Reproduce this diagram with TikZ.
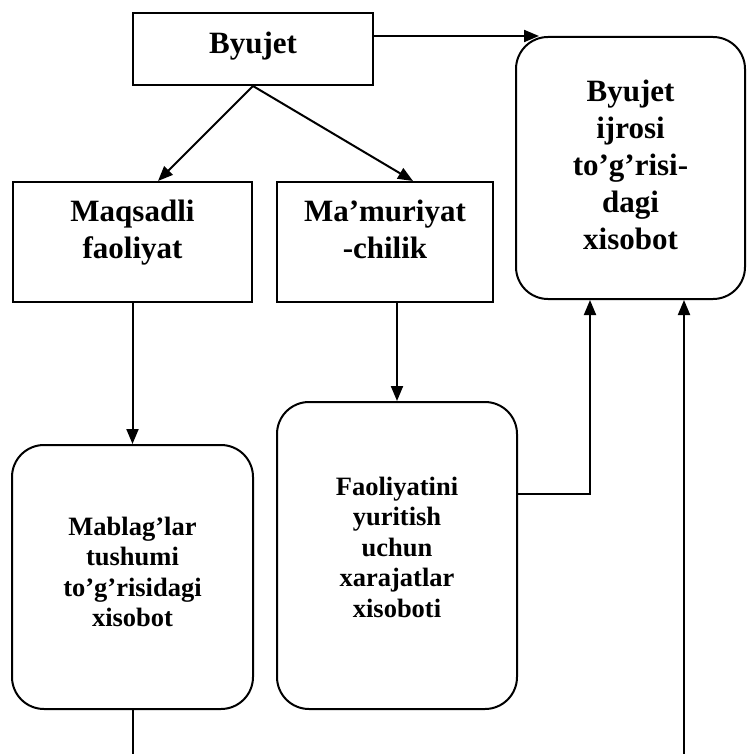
\documentclass[tikz,border=0pt]{standalone}
\usepackage{fontspec}
\setmainfont{Liberation Serif}
\usetikzlibrary{arrows.meta,calc}
\begin{document}
\begin{tikzpicture}[x=1pt,y=-1pt,
  line width=2pt,
  sqbox/.style={draw, rectangle, line width=2pt, inner sep=0pt},
  rndbox/.style={draw, rectangle, rounded corners=32pt, line width=2pt, inner sep=0pt},
  bigtxt/.style={align=center, inner sep=0pt, font=\bfseries\fontsize{31}{37}\selectfont},
  smalltxt/.style={align=center, inner sep=0pt, font=\bfseries\fontsize{26.5}{30.5}\selectfont},
  arr/.style={-{Triangle[length=15pt,width=12pt]}},
]
\useasboundingbox (0,0) rectangle (748,754);

% boxes
\node[sqbox, minimum width=240pt, minimum height=72pt] (byu) at (253,49) {};
\node[rndbox, minimum width=229pt, minimum height=262pt] (ijro) at (630.5,168) {};
\node[sqbox, minimum width=239pt, minimum height=120pt] (maq) at (132.5,242) {};
\node[sqbox, minimum width=216pt, minimum height=120pt] (mam) at (385,242) {};
\node[rndbox, minimum width=241pt, minimum height=264pt] (mab) at (132.5,577) {};
\node[rndbox, minimum width=240pt, minimum height=307pt] (fao) at (397,555.5) {};

% texts
\node[bigtxt] (byuT) at (253,46) {Byujet};
\node[bigtxt] (ijroT) at (630.5,165) {Byujet\\ijrosi\\to’g’risi-\\dagi\\xisobot};
\node[bigtxt] (maqT) at (132.5,233) {Maqsadli\\faoliyat};
\node[bigtxt] (mamT) at (385,229.5) {Ma’muriyat\\-chilik};
\node[smalltxt] (mabT) at (132.5,572) {Mablag’lar\\tushumi\\to’g’risidagi\\xisobot};
\node[smalltxt] (faoT) at (397,547) {Faoliyatini\\yuritish\\uchun\\xarajatlar\\xisoboti};

% free ends of the lines at the lower edge
\coordinate (mabEnd) at (132.5,754);
\coordinate (sideIn) at (684,754);

% connectors
\draw[arr] (byu.east |- ijro.north) -- ($(ijro.north west)+(24,0)$);
\draw[arr] (byu.south) -- ($(maq.north)+(25.5,0)$);
\draw[arr] (byu.south) -- ($(mam.north)+(28,0)$);
\draw[arr] (maq.south) -- (mab.north);
\draw[arr] (fao.north |- mam.south) -- (fao.north);
\draw[arr] ($(fao.east)+(0,-62)$) -| ($(ijro.south)+(-40.5,0)$);
\draw (mab.south) -- (mabEnd);
\draw[arr] (sideIn) -- (sideIn |- ijro.south);
\end{tikzpicture}
\end{document}
